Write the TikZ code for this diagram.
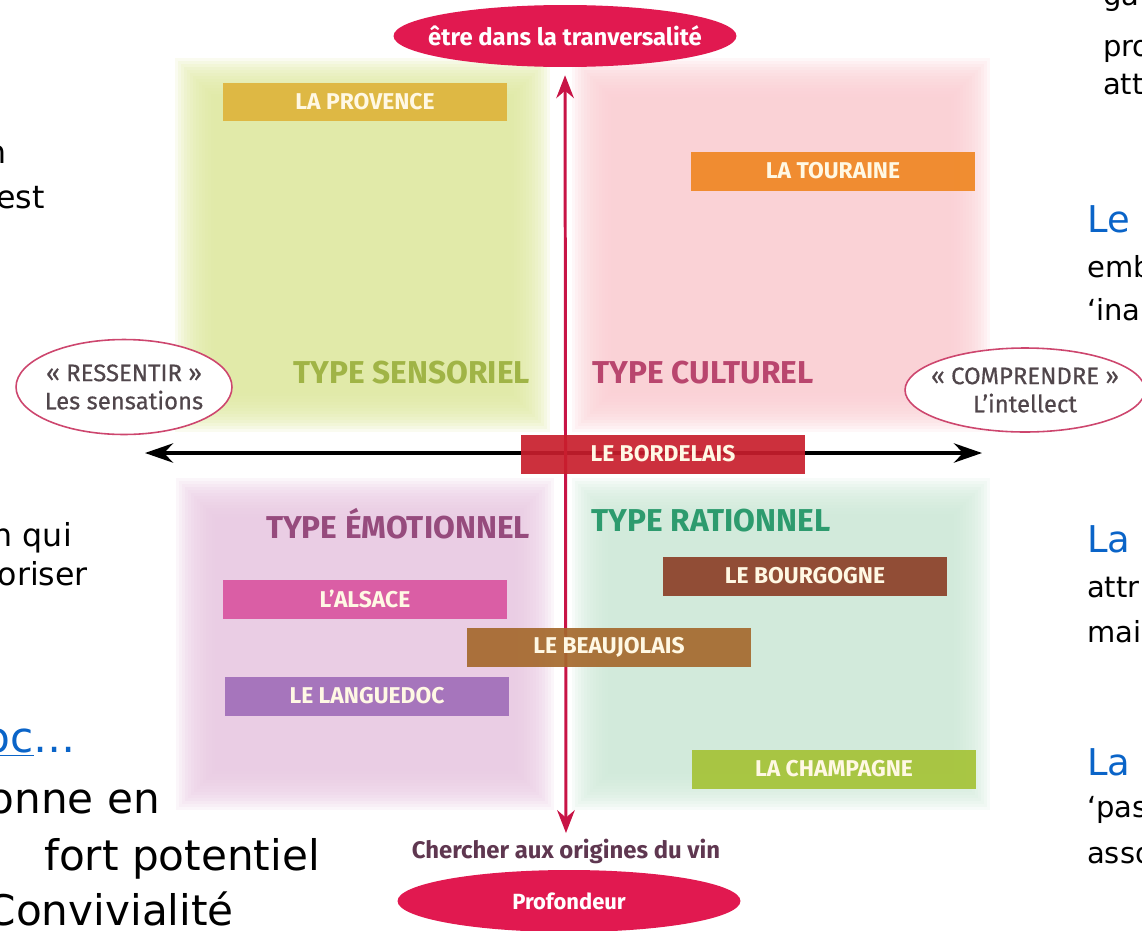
\documentclass[tikz,border=0pt]{standalone}
\usepackage{fontspec}
\setmainfont{DejaVu Sans}
\newfontfamily\diagfont{Fira Sans}
\newfontfamily\polefont[FakeBold=0.5]{Fira Sans}
\usepackage{xcolor}
\usepackage{tikz}
\usetikzlibrary{arrows.meta,shapes.geometric}

\definecolor{axisred}{RGB}{200,20,70}
\definecolor{polered}{RGB}{225,25,80}
\definecolor{polerim}{RGB}{205,70,110}
\definecolor{poletext}{RGB}{80,70,75}
\definecolor{origtext}{RGB}{95,55,80}
\definecolor{boxtext}{RGB}{255,248,228}
\definecolor{headblue}{RGB}{10,100,200}
\definecolor{qgreen}{RGB}{222,232,160}
\definecolor{qpink}{RGB}{250,205,210}
\definecolor{qpurple}{RGB}{232,200,225}
\definecolor{qmint}{RGB}{205,232,215}
\definecolor{provence}{RGB}{222,180,60}
\definecolor{touraine}{RGB}{240,135,35}
\definecolor{bordelais}{RGB}{200,30,45}
\definecolor{bourgogne}{RGB}{140,65,40}
\definecolor{alsace}{RGB}{218,85,160}
\definecolor{beaujolais}{RGB}{165,105,45}
\definecolor{languedoc}{RGB}{160,110,185}
\definecolor{champagne}{RGB}{165,195,55}
\definecolor{sensoriel}{RGB}{160,180,70}
\definecolor{culturel}{RGB}{185,70,110}
\definecolor{emotionnel}{RGB}{150,75,125}
\definecolor{rationnel}{RGB}{45,155,110}

\begin{document}
\begin{tikzpicture}[x=0.02cm,y=-0.02cm,
    wine box/.style={rectangle,minimum width=5.7cm,minimum height=0.78cm,inner sep=0pt,
      fill opacity=0.92,text opacity=1,text=boxtext,
      font=\diagfont\bfseries\fontsize{13}{15}\selectfont},
    type label/.style={font=\diagfont\bfseries\fontsize{18}{20}\selectfont},
    main pole/.style={ellipse,fill=polered,text=white,minimum width=6.86cm,minimum height=1.24cm,
      inner xsep=-10pt,inner ysep=0pt,font=\diagfont\bfseries\fontsize{13.6}{15}\selectfont},
    side pole/.style={ellipse,draw=polerim,line width=0.9pt,fill=white,text=poletext,align=center,
      inner ysep=0pt,font=\polefont\fontsize{13.6}{16}\selectfont},
    v axis/.style={axisred,line width=1.7pt,{Stealth[length=13pt,width=10pt]}-{Stealth[length=13pt,width=10pt]}},
    h axis/.style={black,line width=1.8pt,{Stealth[length=16pt,width=11pt]}-{Stealth[length=16pt,width=11pt]}},
    left line/.style={anchor=base east,font=\fontsize{18}{22}\selectfont},
    right line/.style={anchor=base west,font=\fontsize{16.5}{20}\selectfont},
    big line/.style={font=\fontsize{24}{29}\selectfont},
    head/.style={text=headblue,font=\fontsize{21}{25}\selectfont}]
    \useasboundingbox (0,0) rectangle (1142,930);
    \clip (0,0) rectangle (1142,930);

    % soft quadrants
    \foreach \a/\b/\c/\d/\col in {175/58/550/432/qgreen,572/58/990/432/qpink,
        176/478/554/810/qpurple,572/478/990/810/qmint}
      \foreach \k in {0,...,13}
        \fill[\col,opacity=0.16] (\a+\k*3,\b+\k*3) rectangle (\c-\k*3,\d-\k*3);

    % axes
    \coordinate (west) at (145,453);
    \coordinate (east) at (982,453);
    \draw[h axis] (west) -- (east);

    \node[main pole] (up) at (565,36) {être dans la tranversalité};
    \node[font=\diagfont\bfseries\fontsize{13.6}{15}\selectfont,text=origtext,inner sep=1pt] (origin) at (566,851) {Chercher aux origines du vin};
    \node[main pole,inner xsep=0pt,font=\diagfont\bfseries\fontsize{12.5}{14}\selectfont] (down) at (569,901) {Profondeur};
    \draw[v axis,shorten <=4.5pt,shorten >=2pt] (up) -- (origin);

    \node[side pole,inner xsep=-2pt,minimum width=4.32cm,minimum height=1.9cm] (feel) at (124,387) {« RESSENTIR »\\Les sensations};
    \node[side pole,inner xsep=-6pt,minimum width=4.8cm,minimum height=1.68cm] (mind) at (1025,390) {« COMPRENDRE »\\L’intellect};

    % wine regions
    \node[wine box,fill=provence] (prov) at (365,102) {LA PROVENCE};
    \node[wine box,fill=touraine] (tour) at (833,171) {LA TOURAINE};
    \node[wine box,fill=bordelais] (bord) at (663,454) {LE BORDELAIS};
    \node[wine box,fill=bourgogne] (bourg) at (805,576) {LE BOURGOGNE};
    \node[wine box,fill=alsace] (als) at (365,599) {L’ALSACE};
    \node[wine box,fill=beaujolais] (beau) at (609,647) {LE BEAUJOLAIS};
    \node[wine box,fill=languedoc] (lang) at (367,696) {LE LANGUEDOC};
    \node[wine box,fill=champagne] (champ) at (834,769) {LA CHAMPAGNE};

    \node[type label,text=sensoriel] (sens) at (412,373) {TYPE SENSORIEL};
    \node[type label,text=culturel] (cult) at (703,373) {TYPE CULTUREL};
    \node[type label,text=emotionnel] (emo) at (398,524) {TYPE ÉMOTIONNEL};
    \node[type label,text=rationnel] (rat) at (711,521) {TYPE RATIONNEL};

    % cut slide text, left
    \node[left line] (l1) at (13,163) {n};
    \node[left line] (l2) at (51,208) {est};
    \node[left line] (l3) at (78,546) {n qui};
    \node[left line] (l4) at (94,585) {oriser};
    \node[left line,big line,text=headblue] (l5) at (82,752) {\underline{oc}…};
    \node[left line,big line] (l6) at (166,813) {onne en};
    \node[left line,big line] (l7) at (326,870) {fort potentiel};
    \node[left line,big line] (l8) at (240,925) {Convivialité};

    % cut slide text, right
    \node[right line] (r1) at (1097,5) {ga};
    \node[right line] (r2) at (1097,56) {pro};
    \node[right line] (r3) at (1097,94) {att};
    \node[right line,head] (r4) at (1081,232) {Le B};
    \node[right line] (r5) at (1081,277) {emb};
    \node[right line] (r6) at (1081,320) {‘ina};
    \node[right line,head] (r7) at (1081,552) {La B};
    \node[right line] (r8) at (1081,597) {attr};
    \node[right line] (r9) at (1081,642) {mai};
    \node[right line,head] (r10) at (1081,775) {La C};
    \node[right line] (r11) at (1081,817) {‘pas};
    \node[right line] (r12) at (1081,863) {asso};
\end{tikzpicture}
\end{document}
